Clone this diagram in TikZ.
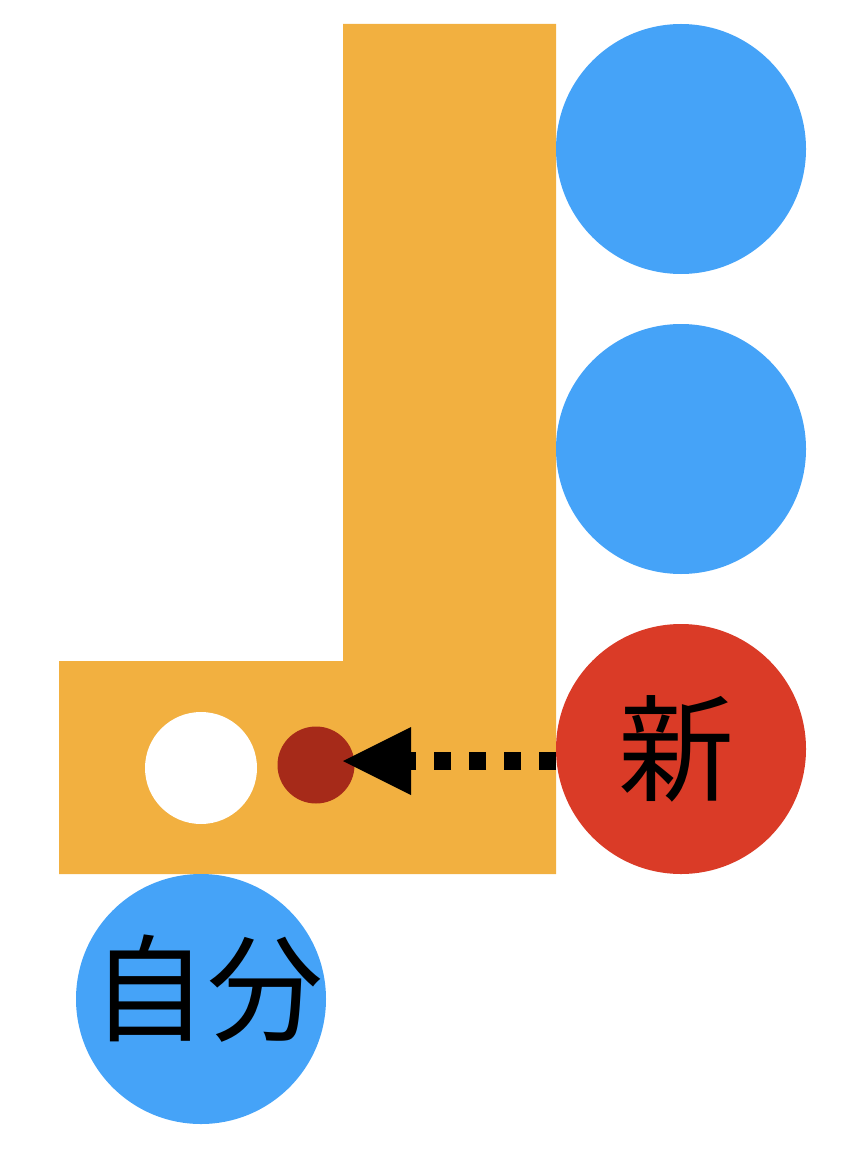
\documentclass[tikz,border=0pt]{standalone}
\usepackage{fontspec}
\newfontfamily\jp{Noto Sans CJK JP}
\usetikzlibrary{arrows.meta}
\definecolor{lorange}{HTML}{F2B040}
\definecolor{cblue}{HTML}{45A3F8}
\definecolor{cred}{HTML}{DA3B27}
\definecolor{cdark}{HTML}{A62A19}
\tikzset{
  ball/.style={circle, draw=none, fill=cblue, minimum size=250pt, inner sep=0pt},
  bigtext/.style={inner sep=0pt, font=\jp\fontsize{116}{116}\selectfont},
  dotarrow/.style={line width=18pt, dash pattern=on 17.5pt off 17.5pt,
    -{Triangle[length=68pt,width=68pt,line width=0pt]}}
}
\begin{document}
\begin{tikzpicture}[x=1pt,y=-1pt]
\useasboundingbox (0,0) rectangle (866,1150);
% L-shaped block
\fill[lorange] (343,24) -- (556,24) -- (556,874) -- (59,874) -- (59,661) -- (343,661) -- cycle;
% circles on the right
\node[ball] (b1) at (681,149) {};
\node[ball] (b2) at (681,449) {};
\node[ball, fill=cred] (new) at (681,749) {};
\node[bigtext] (newt) at (676,749) {新};
% self
\node[ball] (self) at (201,999) {};
\node[bigtext] (selft) at (207,989) {自分};
% holes in block
\node[circle, fill=white, minimum size=112pt, inner sep=0pt] (hole) at (201,768) {};
\node[circle, fill=cdark, minimum size=77pt, inner sep=0pt] (dot) at (316,765) {};
% arrow
\coordinate (as) at (556,761);
\coordinate (ae) at (343,761);
\draw[dotarrow] (as) -- (ae);
\end{tikzpicture}
\end{document}
